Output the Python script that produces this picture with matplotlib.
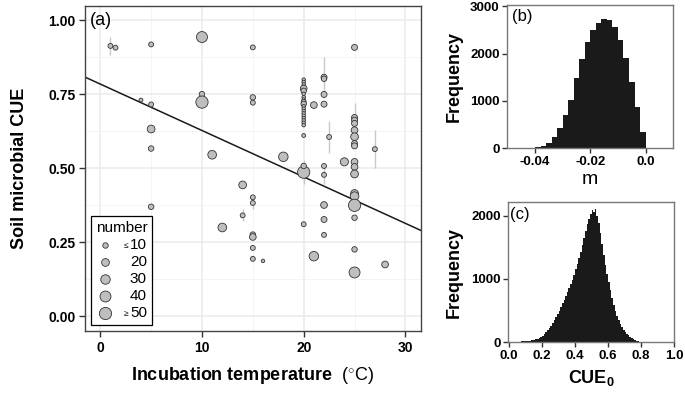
import numpy as np
import matplotlib
matplotlib.use("Agg")
from matplotlib import pyplot as plt
from matplotlib.transforms import IdentityTransform

plt.rcParams['font.family'] = ['Liberation Sans', 'DejaVu Sans']
plt.rcParams['mathtext.fontset'] = 'custom'
plt.rcParams['mathtext.rm'] = 'Liberation Sans'
plt.rcParams['mathtext.bf'] = 'Liberation Sans:bold'

# (a) observations: incubation temperature, CUE, number of samples, error half-width
temp = [1, 1.5, 4, 5, 5, 5, 5, 5,
        10, 10, 10, 11, 12, 14, 14,
        15, 15, 15, 15, 15, 15, 15, 15, 15, 16, 18,
        20, 20, 20, 20,
        20, 20, 20, 20, 20, 20, 20, 20, 20, 20,
        20, 20, 20, 20, 20, 20, 20, 20, 20, 20,
        21, 21, 22, 22, 22, 22, 22.5, 22, 22, 22, 22, 22, 24,
        25, 25, 25, 25, 25, 25, 25, 25, 25, 25, 25, 25, 25, 25, 25, 25, 25, 25,
        27, 28]
cue = [0.914, 0.908, 0.731, 0.919, 0.716, 0.633, 0.567, 0.370,
       0.944, 0.751, 0.724, 0.546, 0.300, 0.444, 0.341,
       0.909, 0.740, 0.722, 0.402, 0.383, 0.276, 0.268, 0.231, 0.194, 0.187, 0.539,
       0.487, 0.508, 0.611, 0.311,
       0.800, 0.792, 0.784, 0.776, 0.770, 0.762, 0.752, 0.741, 0.733, 0.725,
       0.718, 0.710, 0.702, 0.694, 0.686, 0.678, 0.670, 0.662, 0.654, 0.646,
       0.714, 0.203, 0.808, 0.803, 0.750, 0.717, 0.606, 0.508, 0.478, 0.376, 0.327, 0.275, 0.522,
       0.909, 0.672, 0.663, 0.652, 0.629, 0.607, 0.584, 0.576, 0.522, 0.505, 0.481, 0.415, 0.406,
       0.383, 0.375, 0.333, 0.226, 0.148,
       0.565, 0.175]
number = [8, 8, 5, 8, 8, 20, 10, 10,
          40, 10, 50, 25, 25, 20, 8,
          8, 10, 8, 8, 8, 10, 15, 8, 8, 4, 30,
          50, 10, 5, 8,
          4, 4, 4, 4, 15, 10, 4, 4, 4, 8,
          10, 4, 4, 4, 4, 4, 4, 4, 4, 4,
          15, 30, 12, 10, 12, 12, 8, 8, 8, 15, 12, 8, 22,
          12, 12, 12, 12, 15, 20, 12, 12, 15, 15, 20, 20, 25,
          12, 50, 10, 10, 40,
          8, 15]
err = [0.03, 0, 0, 0, 0, 0, 0, 0,
       0, 0, 0, 0, 0, 0, 0.02,
       0, 0, 0, 0, 0.02, 0, 0, 0, 0, 0, 0,
       0.04, 0, 0, 0,
       0, 0, 0, 0, 0, 0, 0, 0, 0, 0,
       0, 0, 0, 0, 0, 0, 0, 0, 0, 0,
       0, 0, 0.07, 0, 0, 0, 0.055, 0, 0.03, 0, 0, 0, 0,
       0, 0.05, 0, 0, 0, 0, 0, 0, 0, 0, 0, 0, 0,
       0, 0, 0, 0, 0,
       0.065, 0]
fit_intercept = 0.785
fit_slope = -0.0157
legend_numbers = [10, 20, 30, 40, 50]

# (b) posterior of m, bins of 0.002 from -0.044 to 0
m_edges = np.round(np.arange(-0.044, 0.0001, 0.002), 4)
m_counts = [6, 14, 28, 55, 120, 245, 420, 700, 1020, 1480, 1880,
            2250, 2490, 2650, 2730, 2700, 2560, 2280, 1900, 1400, 880, 350]

# (c) posterior of CUE0, bins of 0.01 from 0 to 0.83
cue0_edges = np.round(np.arange(0.0, 0.8301, 0.01), 3)
cue0_counts = [2, 3, 4, 5, 7, 9, 11, 13, 16, 18,
               21, 24, 28, 33, 38, 42, 47, 58, 70, 85,
               105, 130, 158, 190, 225, 265, 305, 350, 400, 450,
               500, 560, 615, 670, 730, 790, 850, 920, 990, 1070,
               1150, 1240, 1330, 1430, 1540, 1650, 1760, 1860, 1950, 2030,
               2090, 2060, 2110, 2000, 1880, 1720, 1550, 1380, 1220, 1080,
               950, 820, 700, 590, 500, 420, 350, 290, 240, 200,
               165, 135, 108, 85, 66, 50, 37, 26, 17, 11,
               6, 3, 1]

def size_of(n):
    return 1.55 * np.asarray(n, dtype=float)

fig = plt.figure(figsize=(6.85, 3.95), dpi=100)

# ---- panel (a)
ax = fig.add_axes([0.1241, 0.162, 0.490, 0.8236])
ax.set_xlim(-1.5, 31.5)
ax.set_ylim(-0.05, 1.05)
ax.set_xticks([0, 10, 20, 30])
ax.set_xticks([5, 15, 25], minor=True)
ax.set_yticks([0, 0.25, 0.5, 0.75, 1.0])
ax.set_yticks([0.125, 0.375, 0.625, 0.875], minor=True)
ax.set_yticklabels(['0.00', '0.25', '0.50', '0.75', '1.00'])
ax.grid(which='major', color='#EBEBEB', lw=1.1, zorder=0)
ax.grid(which='minor', color='#F2F2F2', lw=0.6, zorder=0)
ax.set_axisbelow(True)
ax.tick_params(which='minor', length=0)
ax.tick_params(which='major', length=4, width=1, color='#333333', labelsize=10, pad=3)
for lab in ax.get_xticklabels() + ax.get_yticklabels():
    lab.set_fontweight('bold')
for sp in ax.spines.values():
    sp.set_color('#444444')
    sp.set_linewidth(1)

t = np.asarray(temp)
c = np.asarray(cue)
e = np.asarray(err)
has = e > 0
ax.vlines(t[has], c[has] - e[has], c[has] + e[has], color='#C8C8C8', lw=1, zorder=1)
xs = np.array([-1.5, 31.5])
ax.plot(xs, fit_intercept + fit_slope * xs, color='#1a1a1a', lw=1.1, zorder=2)
ax.scatter(t, c, s=size_of(number), facecolor='#BEBEBE', edgecolor='#333333',
           linewidth=0.6, zorder=3)

handles = [ax.scatter([], [], s=size_of(n), facecolor='#BEBEBE', edgecolor='#333333', linewidth=0.6)
           for n in legend_numbers]
leg = ax.legend(handles, [str(n) for n in legend_numbers], title='number', loc='lower left',
                fontsize=11, title_fontsize=11, frameon=True, fancybox=False,
                edgecolor='black', framealpha=1, borderpad=0.3, labelspacing=0.2,
                handletextpad=1.0, handlelength=1.2, borderaxespad=0.4, scatterpoints=1)
leg.get_frame().set_linewidth(0.9)

ax.text(0.015, 0.955, '(a)', transform=ax.transAxes, fontsize=13, va='center', ha='left')
ax.set_ylabel('Soil microbial CUE', fontsize=13, fontweight='bold')
ax.yaxis.set_label_coords(-0.17, 0.5)
ax.set_xlabel(r'Incubation temperature  $\mathrm{(^{\circ}C)}$', fontsize=13, fontweight='bold')
ax.xaxis.set_label_coords(0.5, -0.105)

# ---- panel (b)
axb = fig.add_axes([0.7406, 0.6246, 0.2423, 0.3635])
axb.stairs(m_counts, m_edges, fill=True, color='#1a1a1a', lw=0)
axb.set_xlim(-0.05, 0.01)
axb.set_ylim(0, 3030)
axb.set_xticks([-0.04, -0.02, 0.0])
axb.set_xticklabels(['-0.04', '-0.02', '0.0'])
axb.set_yticks([0, 1000, 2000, 3000])
axb.text(0.03, 0.92, '(b)', transform=axb.transAxes, fontsize=12, va='center', ha='left')
axb.set_ylabel('Frequency', fontsize=13, fontweight='bold')
axb.yaxis.set_label_coords(-0.267, 0.5)
axb.set_xlabel('m', fontsize=14)
axb.xaxis.set_label_coords(0.5, -0.16)

# ---- panel (c)
axc = fig.add_axes([0.742, 0.1334, 0.2419, 0.3544])
axc.stairs(cue0_counts, cue0_edges, fill=True, color='#1a1a1a', lw=0)
axc.set_xlim(-0.005, 1.0)
axc.set_ylim(0, 2210)
axc.set_xticks([0.0, 0.2, 0.4, 0.6, 0.8, 1.0])
axc.set_xticklabels(['0.0', '0.2', '0.4', '0.6', '0.8', '1.0'])
axc.set_yticks([0, 1000, 2000])
axc.text(0.01, 0.91, '(c)', transform=axc.transAxes, fontsize=12, va='center', ha='left')
axc.set_ylabel('Frequency', fontsize=13, fontweight='bold')
axc.yaxis.set_label_coords(-0.273, 0.5)
axc.set_xlabel(r'CUE$_{\mathbf{0}}$', fontsize=13, fontweight='bold')
axc.xaxis.set_label_coords(0.5, -0.18)

for a in (axb, axc):
    a.tick_params(length=3.5, width=1, color='#333333', labelsize=9.5, pad=2)
    for lab in a.get_xticklabels() + a.get_yticklabels():
        lab.set_fontweight('bold')
    for sp in a.spines.values():
        sp.set_color('#777777')
        sp.set_linewidth(1)

# small inequality signs in the legend
fig.canvas.draw()
texts = leg.get_texts()
for idx, sym in ((0, '\u2264'), (len(texts) - 1, '\u2265')):
    bb = texts[idx].get_window_extent()
    fig.text(bb.x0 - 2, (bb.y0 + bb.y1) / 2 - 1, sym, fontsize=6, ha='right', va='center',
             transform=IdentityTransform())

fig.savefig('out.png', dpi=100)
